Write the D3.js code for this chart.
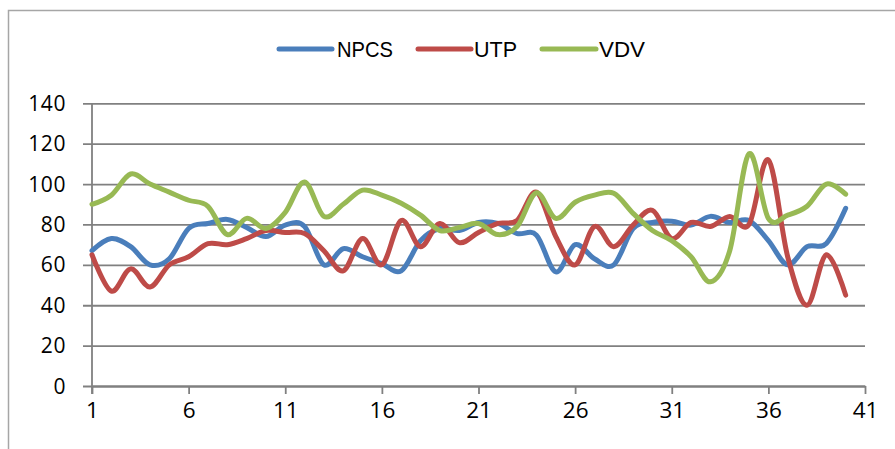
<!DOCTYPE html>
<html lang="en">
<head>
    <meta charset="UTF-8">
    <title>NPCS / UTP / VDV</title>
    <script src="https://d3js.org/d3.v7.min.js"></script>
    <style>
        body { margin: 0; background: #fff; }
        svg { display: block; }
    </style>
</head>
<body>
    <svg id="chart" width="895" height="449"></svg>

    <script>
        // data
        const points = d3.range(1, 41);
        const npcs = [67, 73, 69, 60, 63, 78, 80.5, 82.5, 78.5, 74, 79.7, 79, 60, 68, 64, 60.6, 57, 72, 78, 77,
            81, 80.5, 75.5, 74.7, 56.5, 70, 63, 60, 78, 81, 81.6, 79.7, 84, 81, 82, 72, 60, 69, 70.6, 88];
        const utp = [65, 47, 58, 49, 60, 64, 70.5, 70, 73, 77, 76, 75.5, 67, 57, 73, 60, 82, 69, 80.5, 71,
            76, 80.5, 82, 96, 74, 60, 79, 69, 79.7, 87, 73, 81, 79, 84, 80, 112, 64, 40, 65, 45];
        const vdv = [90, 94.5, 105, 100, 96, 92, 89, 75, 83, 78, 86, 101, 84, 90, 97, 94.5, 90.5, 84.6, 77, 78.5,
            80.5, 75, 79, 95.7, 83, 91, 94.5, 95.4, 85.5, 77, 72, 64, 51.6, 67, 115, 83, 84.6, 89, 100, 95];
        const seriesNames = ["NPCS", "UTP", "VDV"];
        const xTicks = [1, 6, 11, 16, 21, 26, 31, 36, 41];
        const yTicks = [0, 20, 40, 60, 80, 100, 120, 140];

        const colors = ["#4a7ebb", "#be4b48", "#98b954"];
        const series = [npcs, utp, vdv].map((vals, i) => ({
            name: seriesNames[i],
            color: colors[i],
            values: vals.map((v, j) => ({ x: points[j], y: v }))
        }));

        const svg = d3.select("#chart");

        // chart frame
        svg.append("rect")
            .attr("x", 8.5)
            .attr("y", 10.5)
            .attr("width", 900)
            .attr("height", 450)
            .attr("fill", "none")
            .attr("stroke", "#a6a6a6")
            .attr("stroke-width", 1.5);

        const x = d3.scaleLinear().domain([1, 41]).range([92, 865]);
        const y = d3.scaleLinear().domain([0, 140]).range([386, 103.3]);

        // gridlines + y axis
        const yAxis = svg.append("g")
            .attr("transform", "translate(92,0)")
            .call(d3.axisLeft(y).tickValues(yTicks).tickSize(9).tickSizeInner(-(865 - 92)).tickPadding(0).tickFormat(""));
        yAxis.select(".domain").remove();
        yAxis.selectAll(".tick line")
            .attr("x1", -9)
            .attr("stroke", "#808080")
            .attr("stroke-width", 1.8);

        svg.append("g")
            .selectAll("text")
            .data(yTicks)
            .join("text")
            .attr("x", 66)
            .attr("y", d => y(d))
            .attr("dy", "0.36em")
            .attr("text-anchor", "end")
            .attr("font-family", "'Open Sans', sans-serif")
            .attr("font-size", 21)
            .attr("letter-spacing", 0.6)
            .attr("fill", "#000")
            .text(d => d);

        // x axis
        const xAxis = svg.append("g")
            .attr("transform", "translate(0,386)")
            .call(d3.axisBottom(x).tickValues(xTicks).tickSize(8).tickSizeOuter(0).tickPadding(8));
        xAxis.select(".domain").attr("stroke", "#808080").attr("stroke-width", 1.8);
        xAxis.selectAll(".tick line").attr("stroke", "#808080").attr("stroke-width", 1.8);
        xAxis.selectAll(".tick text")
            .attr("font-family", "'Open Sans', sans-serif")
            .attr("font-size", 22.5)
            .attr("fill", "#000");

        // vertical axis line
        svg.append("line")
            .attr("x1", 92).attr("x2", 92)
            .attr("y1", y(140)).attr("y2", 394)
            .attr("stroke", "#808080")
            .attr("stroke-width", 1.8);

        // smoothed lines
        const line = d3.line()
            .x(d => x(d.x))
            .y(d => y(d.y))
            .curve(d3.curveCardinal.tension(0));

        svg.append("g")
            .selectAll("path")
            .data(series)
            .join("path")
            .attr("fill", "none")
            .attr("stroke", d => d.color)
            .attr("stroke-width", 5)
            .attr("stroke-linejoin", "round")
            .attr("stroke-linecap", "round")
            .attr("d", d => line(d.values));

        // legend
        const legendItems = [
            { x0: 279, x1: 332, tx: 337, tw: 56 },
            { x0: 418, x1: 471, tx: 474, tw: 43 },
            { x0: 542, x1: 596, tx: 599, tw: 46 }
        ];
        const legend = svg.append("g");
        series.forEach((s, i) => {
            const it = legendItems[i];
            legend.append("line")
                .attr("x1", it.x0).attr("x2", it.x1)
                .attr("y1", 49).attr("y2", 49)
                .attr("stroke", s.color)
                .attr("stroke-width", 5)
                .attr("stroke-linecap", "round");
            legend.append("text")
                .attr("x", it.tx)
                .attr("y", 57)
                .attr("font-family", "'Liberation Sans Narrow', 'Liberation Sans', sans-serif")
                .attr("font-size", 22)
                .attr("textLength", it.tw)
                .attr("lengthAdjust", "spacingAndGlyphs")
                .attr("fill", "#000")
                .text(s.name);
        });
    </script>
</body>
</html>
